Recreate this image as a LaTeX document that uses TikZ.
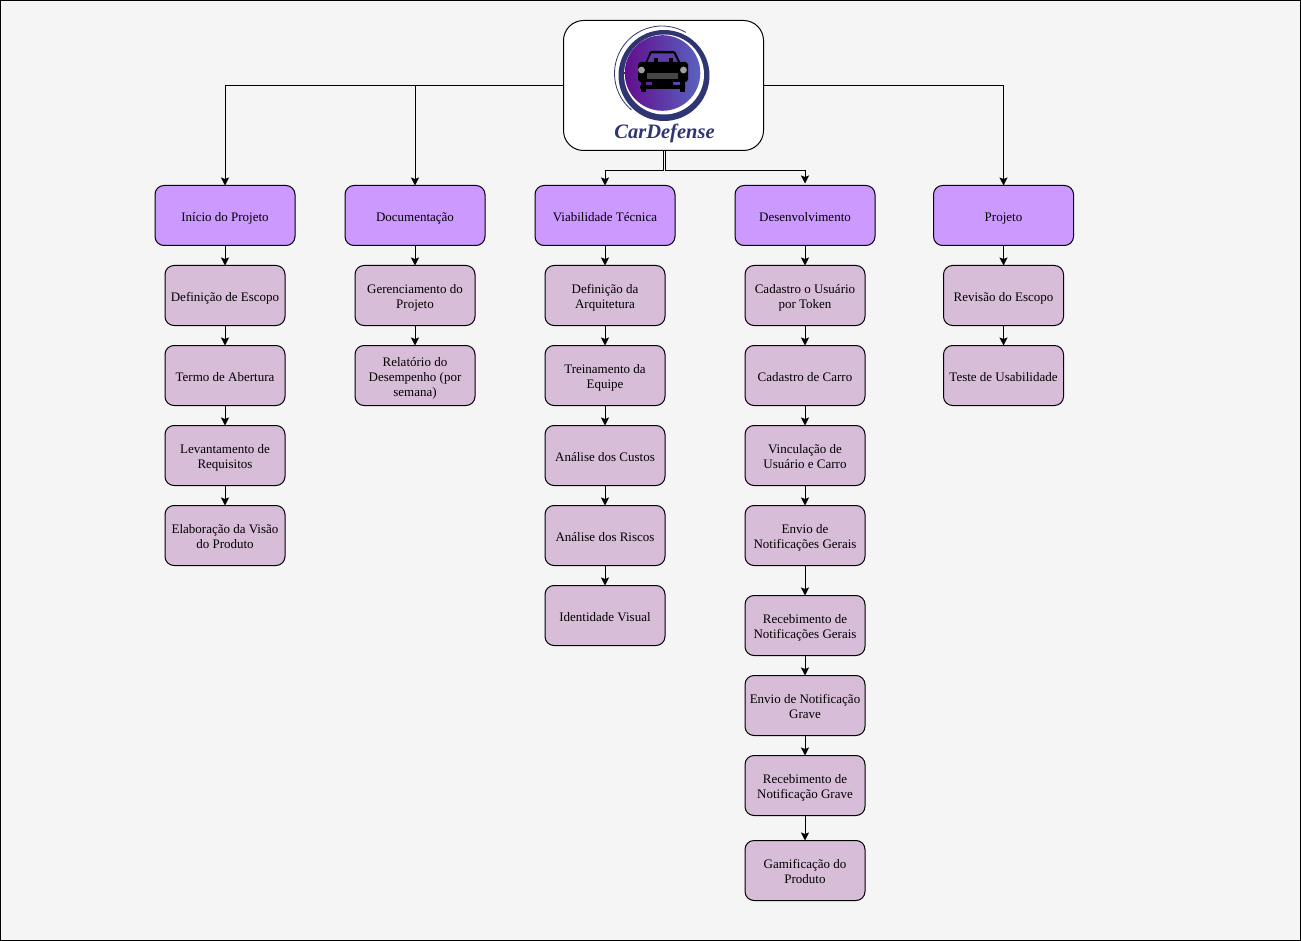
\documentclass[tikz,border=0pt]{standalone}
\usepackage{fontspec}
\setmainfont{Liberation Serif}
\newfontfamily\logofont{Liberation Serif}
\usetikzlibrary{arrows.meta}
\definecolor{pagebg}{HTML}{F5F5F5}
\definecolor{phasefill}{HTML}{CC99FF}
\definecolor{taskfill}{HTML}{D8BDD9}
\definecolor{logoblue}{HTML}{2F3572}
\definecolor{logopurple}{HTML}{620E8E}
\definecolor{logoviolet}{HTML}{5A62C0}
\newcommand{\boxstrut}{\vrule width 0pt height 16pt depth 3.5pt\relax}
\newcommand{\boxstrutend}{\vrule width 0pt height 0pt depth 3.5pt\relax}
\newcommand{\firstline}{\vrule width 0pt height 15pt depth 0pt\relax}
\begin{document}
\begin{tikzpicture}[x=1pt,y=-1pt,->,>={Stealth[length=8pt,width=8pt,inset=1.5pt]},line width=1pt]
        \tikzstyle{phase}=[rectangle,rounded corners=9pt,draw=black,fill=phasefill,minimum width=140pt,minimum height=60pt,inner sep=0pt,outer sep=0pt,align=center,font=\fontsize{13}{15}\selectfont,execute at begin node=\boxstrut,execute at end node=\boxstrutend]
        \tikzstyle{task}=[phase,fill=taskfill,minimum width=120pt]
        \tikzstyle{edge}=[draw]
        \useasboundingbox (0,0) rectangle (1301,941);
        \path[draw=black,fill=pagebg,-] (0.5,0.5) rectangle (1300.5,940.5);

        % logo
        \node [draw=black,fill=white,rounded corners=20pt,minimum width=200pt,minimum height=130pt,outer sep=0pt] (logo) at (663.5,85.5) {};
        \begin{scope}[-]
         \draw [logoblue,line width=0.8pt] (662,73.5) ++(-60:47.5) arc [start angle=-60,end angle=-230,radius=47.5];
         \fill [logoblue] (664,75.5) circle [radius=45.5];
         \fill [white] (664,74.5) circle [radius=40];
         \shade [left color=logopurple,right color=logoviolet] (662.5,73) circle [radius=37.8];
         % car
         \fill [black,rounded corners=1.5pt] (645,64) -- (650,51) -- (675,51) -- (681,64) -- cycle;
         \fill [logopurple!45!logoviolet] (647.5,62) -- (651.5,53.5) -- (673.5,53.5) -- (678,62) -- cycle;
         \fill [black] (654,58.5) rectangle (658,62);
         \fill [black] (669,58.5) rectangle (673,62);
         \fill [black,rounded corners=3pt] (638,62) rectangle (688,82);
         \fill [black,rounded corners=1pt] (640,85) rectangle (685,89);
         \fill [black] (640.5,80) rectangle (646,92);
         \fill [black] (679.5,80) rectangle (685,92);
         \fill [black] (652,80) rectangle (673,87);
         \fill [gray!75!white] (641.5,70) circle [radius=3.4];
         \fill [gray!75!white] (683.5,70) circle [radius=3.4];
         \fill [gray!55!black] (647,73.5) rectangle (678,79);
        \end{scope}
        \node [text=logoblue,font=\logofont\fontsize{20.5}{21}\bfseries\itshape,inner sep=0pt] (brand) at (664.5,133) {CarDefense};

        % phases
        \node [phase] (inicio) at (225,215.5) {Início do Projeto};
        \node [phase] (docs) at (415,215.5) {Documentação};
        \node [phase] (viab) at (605,215.5) {Viabilidade Técnica};
        \node [phase] (desenv) at (805,215.5) {Desenvolvimento};
        \node [phase] (proj) at (1003.5,215.5) {Projeto};

        % inicio do projeto
        \node [task] (i1) at (225,295.5) {Definição de Escopo};
        \node [task] (i2) at (225,375.5) {Termo de Abertura};
        \node [task] (i3) at (225,455.5) {\firstline Levantamento de\\Requisitos};
        \node [task] (i4) at (225,535.5) {\firstline Elaboração da Visão\\do Produto};

        % documentacao
        \node [task] (d1) at (415,295.5) {\firstline Gerenciamento do\\Projeto};
        \node [task] (d2) at (415,375.5) {\firstline Relatório do\\Desempenho (por\\semana)};

        % viabilidade
        \node [task] (v1) at (605,295.5) {\firstline Definição da\\Arquitetura};
        \node [task] (v2) at (605,375.5) {\firstline Treinamento da\\Equipe};
        \node [task] (v3) at (605,455.5) {Análise dos Custos};
        \node [task] (v4) at (605,535.5) {Análise dos Riscos};
        \node [task] (v5) at (605,615.5) {Identidade Visual};

        % desenvolvimento
        \node [task] (e1) at (805,295.5) {\firstline Cadastro o Usuário\\por Token};
        \node [task] (e2) at (805,375.5) {Cadastro de Carro};
        \node [task] (e3) at (805,455.5) {\firstline Vinculação de\\Usuário e Carro};
        \node [task] (e4) at (805,535.5) {\firstline Envio de\\Notificações Gerais};
        \node [task] (e5) at (805,625.5) {\firstline Recebimento de\\Notificações Gerais};
        \node [task] (e6) at (805,705.5) {\firstline Envio de Notificação\\Grave};
        \node [task] (e7) at (805,785.5) {\firstline Recebimento de\\Notificação Grave};
        \node [task] (e8) at (805,870.5) {\firstline Gamificação do\\Produto};

        % projeto
        \node [task] (p1) at (1003.5,295.5) {Revisão do Escopo};
        \node [task] (p2) at (1003.5,375.5) {Teste de Usabilidade};

        \draw (logo.west) -| (inicio);
        \draw (logo.west) -| (docs);
        \draw (logo.east) -| (proj);
        \coordinate (busl) at (663.5,170.5);
        \coordinate (busr) at (665.3,170.5);
        \draw (busl |- logo.south) -- (busl) -| (viab);
        \draw (busr |- logo.south) -- (busr) -| ([yshift=2pt]desenv.north);

        \path[edge] (inicio) edge (i1) (i1) edge (i2) (i2) edge (i3) (i3) edge (i4);
        \path[edge] (docs) edge (d1) (d1) edge (d2);
        \path[edge] (viab) edge (v1) (v1) edge (v2) (v2) edge (v3) (v3) edge (v4) (v4) edge (v5);
        \path[edge] (desenv) edge (e1) (e1) edge (e2) (e2) edge (e3) (e3) edge (e4);
        \path[edge] (e4) edge (e5) (e5) edge (e6) (e6) edge (e7) (e7) edge (e8);
        \path[edge] (proj) edge (p1) (p1) edge (p2);
\end{tikzpicture}
\end{document}
